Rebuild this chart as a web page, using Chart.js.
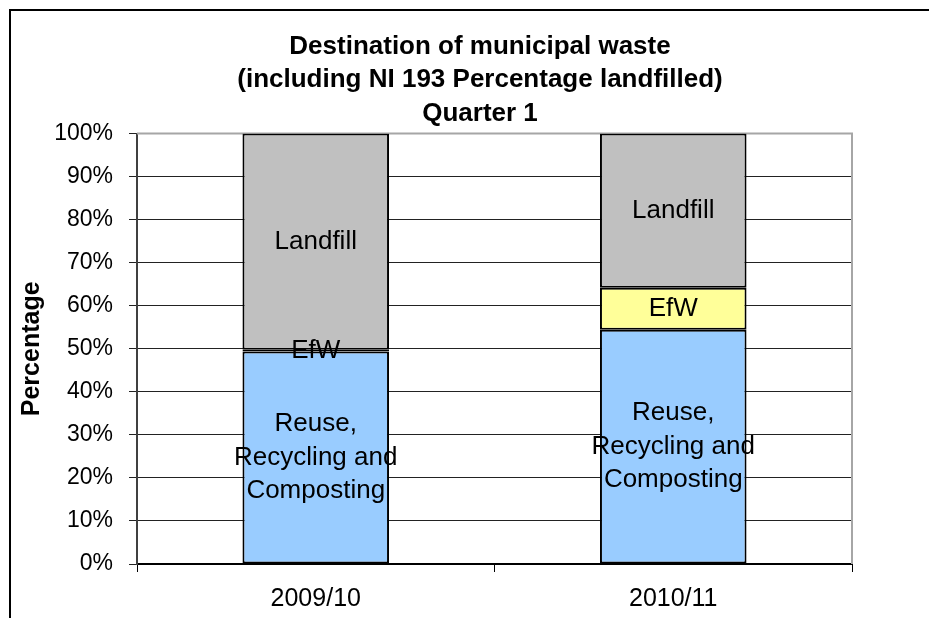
<!DOCTYPE html>
<html lang="en">
<head>
<meta charset="utf-8">
<title>Destination of municipal waste</title>
<script src="https://cdn.jsdelivr.net/npm/chart.js@4.4.1/dist/chart.umd.min.js"></script>
<style>
  html, body { margin: 0; padding: 0; background: #fff; }
  #frame { position: absolute; left: 9px; top: 9px; width: 1000px; height: 700px;
           border-left: 2px solid #000; border-top: 2px solid #000; }
  #chart { position: absolute; left: 0; top: 0; }
</style>
</head>
<body>
<div id="frame"></div>
<canvas id="chart" width="929" height="618"></canvas>
<script>
// data (percent of municipal waste)
var years = ['2009/10', '2010/11'];
var reuseRecycling = [49.4, 54.4];
var efw = [0.4, 9.8];
var landfill = [50.2, 35.8];

var titleLines = ['Destination of municipal waste', '(including NI 193 Percentage landfilled)', 'Quarter 1'];
var seriesNames = ['Reuse, Recycling and Composting', 'EfW', 'Landfill'];
var seriesLabelLines = [['Reuse,', 'Recycling and', 'Composting'], ['EfW'], ['Landfill']];

var FONT = "'Liberation Sans', Arial, sans-serif";

// labels written in the middle of each segment
var segmentLabels = {
  id: 'segmentLabels',
  afterDatasetsDraw: function (chart) {
    var ctx = chart.ctx;
    ctx.save();
    ctx.font = '26px ' + FONT;
    ctx.fillStyle = '#000';
    ctx.textAlign = 'center';
    ctx.textBaseline = 'middle';
    chart.data.datasets.forEach(function (ds, di) {
      var meta = chart.getDatasetMeta(di);
      var lines = seriesLabelLines[di];
      meta.data.forEach(function (bar) {
        var p = bar.getProps(['x', 'y', 'base'], true);
        var cy = (p.y + p.base) / 2;
        var lh = 33.5;
        lines.forEach(function (t, i) {
          ctx.fillText(t, p.x, cy + (i - (lines.length - 1) / 2) * lh);
        });
      });
    });
    ctx.restore();
  }
};

// grey plot-area frame on top and right, title centred like the original
var plotFrame = {
  id: 'plotFrame',
  afterLayout: function (chart) {
    if (chart.titleBlock) {
      chart.titleBlock.left = 108;
      chart.titleBlock.right = chart.chartArea.right;
    }
  },
  beforeDatasetsDraw: function (chart) {
    var a = chart.chartArea, ctx = chart.ctx;
    ctx.save();
    ctx.strokeStyle = '#a6a6a6';
    ctx.lineWidth = 2;
    ctx.beginPath();
    ctx.moveTo(a.left, a.top);
    ctx.lineTo(a.right, a.top);
    ctx.lineTo(a.right, a.bottom);
    ctx.stroke();
    ctx.restore();
  }
};

new Chart(document.getElementById('chart'), {
  type: 'bar',
  data: {
    labels: years,
    datasets: [
      { label: seriesNames[0], data: reuseRecycling, backgroundColor: '#99ccff' },
      { label: seriesNames[1], data: efw, backgroundColor: '#ffff99' },
      { label: seriesNames[2], data: landfill, backgroundColor: '#c0c0c0' }
    ]
  },
  options: {
    responsive: false,
    animation: false,
    devicePixelRatio: 1,
    layout: { padding: { left: 0, right: 77, top: 0, bottom: 0 } },
    datasets: {
      bar: {
        borderColor: '#000',
        borderWidth: 2,
        borderSkipped: false,
        categoryPercentage: 1,
        barPercentage: 0.41
      }
    },
    plugins: {
      legend: { display: false },
      tooltip: { enabled: false },
      title: {
        display: true,
        text: titleLines,
        color: '#000',
        font: { family: FONT, size: 26, weight: 'bold', lineHeight: 1.29 },
        padding: { top: 30, bottom: 3 }
      }
    },
    scales: {
      x: {
        stacked: true,
        offset: true,
        afterFit: function (s) { s.height = 54; },
        grid: { drawOnChartArea: false, drawTicks: true, tickLength: 8, color: '#000', offset: true },
        border: { color: '#000', width: 2 },
        ticks: { color: '#000', padding: 12, font: { family: FONT, size: 25 } }
      },
      y: {
        stacked: true,
        min: 0,
        max: 100,
        afterFit: function (s) { s.width = 137; },
        grid: { color: '#222', lineWidth: 1, tickLength: 8 },
        border: { color: '#404040', width: 2 },
        ticks: {
          stepSize: 10,
          color: '#000',
          padding: 16,
          font: { family: FONT, size: 23 },
          callback: function (v) { return v + '%'; }
        },
        title: {
          display: true,
          text: 'Percentage',
          color: '#000',
          padding: { top: 17, bottom: 0 },
          font: { family: FONT, size: 25, weight: 'bold' }
        }
      }
    }
  },
  plugins: [plotFrame, segmentLabels]
});
</script>
</body>
</html>
